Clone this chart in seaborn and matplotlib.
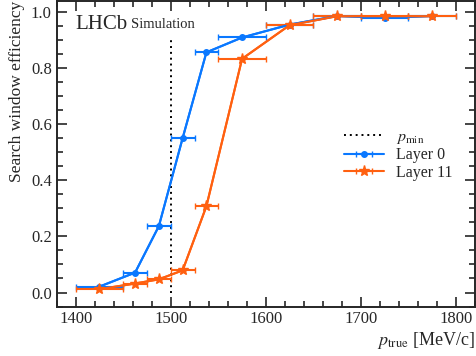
import numpy as np
import pandas as pd
import matplotlib
matplotlib.use("Agg")
import matplotlib.pyplot as plt
import seaborn as sns
from matplotlib.ticker import MultipleLocator

# Data
bin_lo = [1400, 1450, 1475, 1500, 1525, 1550, 1600, 1650, 1700, 1750]
bin_hi = [1450, 1475, 1500, 1525, 1550, 1600, 1650, 1700, 1750, 1800]
eff_layer0 = [0.021, 0.071, 0.237, 0.551, 0.857, 0.910, 0.956, 0.987, 0.980, 0.987]
eff_layer11 = [0.012, 0.032, 0.047, 0.079, 0.308, 0.834, 0.954, 0.986, 0.986, 0.986]
p_min = 1500
p_min_top = 0.9
series_names = ["Layer 0", "Layer 11"]

centers = [(a + b) / 2 for a, b in zip(bin_lo, bin_hi)]
halfw = [(b - a) / 2 for a, b in zip(bin_lo, bin_hi)]

df = pd.DataFrame({
    "p": centers * 2,
    "eff": eff_layer0 + eff_layer11,
    "layer": [series_names[0]] * len(centers) + [series_names[1]] * len(centers),
})

sns.set_style("ticks")
plt.rcParams["font.family"] = ["Liberation Serif", "DejaVu Serif"]
plt.rcParams["mathtext.fontset"] = "stix"

colors = {"Layer 0": "#0a78ff", "Layer 11": "#ff6010"}
markers = {"Layer 0": "o", "Layer 11": "*"}
msizes = {"Layer 0": 4, "Layer 11": 8}

fig = plt.figure(figsize=(4.76, 3.56), dpi=100)
ax = fig.add_axes([0.119, 0.139, 0.879, 0.858])

sns.lineplot(data=df, x="p", y="eff", hue="layer",
             palette=colors, markers=False, dashes=False,
             linewidth=1.5, ax=ax, legend=False)

handles = []
vl, = ax.plot([p_min, p_min], [0, p_min_top], color="black", ls=(0, (1, 2)),
              lw=1.4, label=r"$p_{\mathrm{min}}$")
handles.append(vl)
for name, vals in zip(series_names, [eff_layer0, eff_layer11]):
    eb = ax.errorbar(centers, vals, xerr=halfw, fmt=markers[name] + "-",
                     color=colors[name], ms=msizes[name], lw=1.5, elinewidth=1.5,
                     capsize=2, capthick=1, label=name, zorder=3)
    handles.append(eb)

ax.set_xlim(1380, 1820)
ax.set_ylim(-0.05, 1.04)
ax.xaxis.set_major_locator(MultipleLocator(100))
ax.xaxis.set_minor_locator(MultipleLocator(20))
ax.yaxis.set_major_locator(MultipleLocator(0.2))
ax.yaxis.set_minor_locator(MultipleLocator(0.05))
ax.tick_params(which="both", direction="in", top=True, right=True, labelsize=12, width=1.2)
ax.tick_params(which="major", length=7)
ax.tick_params(which="minor", length=4)
for s in ax.spines.values():
    s.set_linewidth(1.4)

ax.set_xlabel(r"$p_{\mathrm{true}}$ [MeV/c]", fontsize=13, loc="right", labelpad=2)
ax.set_ylabel("Search window efficiency", fontsize=12.5, loc="top", labelpad=4)

ax.text(0.045, 0.955, "LHCb", transform=ax.transAxes, fontsize=15, va="top", ha="left")
ax.text(0.178, 0.945, "Simulation", transform=ax.transAxes, fontsize=10.5, va="top", ha="left")

ax.legend(handles=handles, labels=[r"$p_{\mathrm{min}}$"] + series_names,
          loc="lower right", bbox_to_anchor=(0.97, 0.38), frameon=False,
          fontsize=11.5, handlelength=2.5, labelspacing=0.1, borderaxespad=0.2)

fig.savefig("out.png", dpi=100)
